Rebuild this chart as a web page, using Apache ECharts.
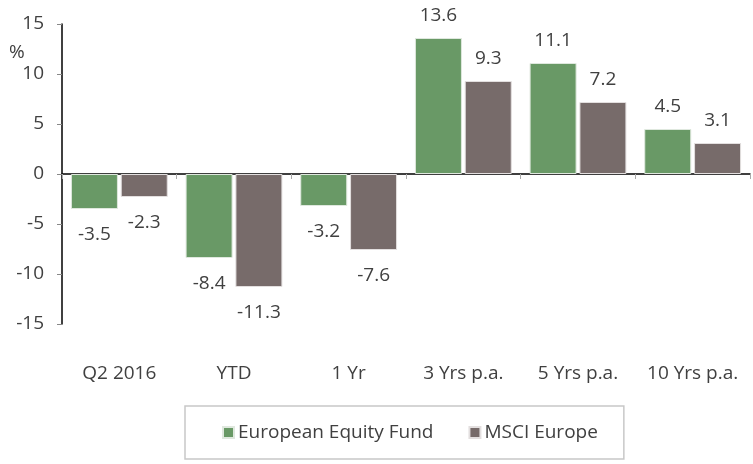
<!DOCTYPE html>
<html><head><meta charset="utf-8">
<script src="https://cdn.jsdelivr.net/npm/echarts@6/dist/echarts.min.js"></script>
<style>html,body{margin:0;padding:0;background:#fff}#c{width:753px;height:464px}</style>
</head><body><div id="c"></div>
<script>
const categories = ['Q2 2016', 'YTD', '1 Yr', '3 Yrs p.a.', '5 Yrs p.a.', '10 Yrs p.a.'];
const fundValues = [-3.5, -8.4, -3.2, 13.6, 11.1, 4.5];
const msciValues = [-2.3, -11.3, -7.6, 9.3, 7.2, 3.1];
const seriesNames = ['European Equity Fund', 'MSCI Europe'];
const yTicks = { min: -15, max: 15, interval: 5 };

const FONT = 'Open Sans';
const FS = 19;
const TXT = '#404040';
const chart = echarts.init(document.getElementById('c'));
function lbl() {
  return {
    show: true, fontFamily: FONT, fontSize: FS, color: TXT, distance: 13,
    position: 'top',
    formatter: p => p.value.toFixed(1)
  };
}
function mkData(arr) {
  return arr.map(v => ({ value: v, label: v < 0 ? { position: 'bottom', distance: 16 } : { position: 'top', distance: 13 } }));
}
chart.setOption({
  animation: false,
  textStyle: { fontFamily: FONT },
  grid: { left: 62, right: 3, top: 24, bottom: 140, containLabel: false },
  legend: {
    data: seriesNames,
    left: 185, top: 406,
    padding: [17, 26, 17, 37],
    borderColor: '#c8c8c8', borderWidth: 1.5,
    itemWidth: 11, itemHeight: 11, itemGap: 35,
    icon: 'rect',
    textStyle: { fontFamily: FONT, fontSize: FS, color: TXT, padding: [0, 0, 0, -1] }
  },
  graphic: [{ type: 'text', left: 9, top: 43, style: { text: '%', font: '19px "Open Sans"', fill: TXT } }],
  xAxis: [{
    type: 'category', data: categories, position: 'bottom',
    axisLine: { show: false, onZero: false }, axisTick: { show: false },
    axisLabel: { interval: 0, fontFamily: FONT, fontSize: FS, color: TXT, margin: 40 }
  }, {
    type: 'category', data: categories, position: 'bottom',
    axisLine: { show: true, onZero: true, onZeroAxisIndex: 0, lineStyle: { color: '#000', width: 1.5 } },
    axisTick: { show: true, length: 5, lineStyle: { color: '#aaa' } },
    axisLabel: { show: false }
  }],
  yAxis: {
    type: 'value', min: yTicks.min, max: yTicks.max, interval: yTicks.interval,
    splitLine: { show: false },
    axisLine: { show: true, onZero: false, lineStyle: { color: '#000', width: 1.5 } },
    axisTick: { show: true, length: 5, lineStyle: { color: '#888' } },
    axisLabel: { fontFamily: FONT, fontSize: FS, color: TXT, margin: 18 }
  },
  series: [{
    name: seriesNames[0], type: 'bar', data: mkData(fundValues),
    barWidth: 47, barGap: '6%',
    itemStyle: { color: '#699966', borderColor: '#dfe8de', borderWidth: 1 },
    label: lbl()
  }, {
    name: seriesNames[1], type: 'bar', data: mkData(msciValues),
    barWidth: 47,
    itemStyle: { color: '#776b6a', borderColor: '#e3dfdf', borderWidth: 1 },
    label: lbl()
  }]
});
</script></body></html>
